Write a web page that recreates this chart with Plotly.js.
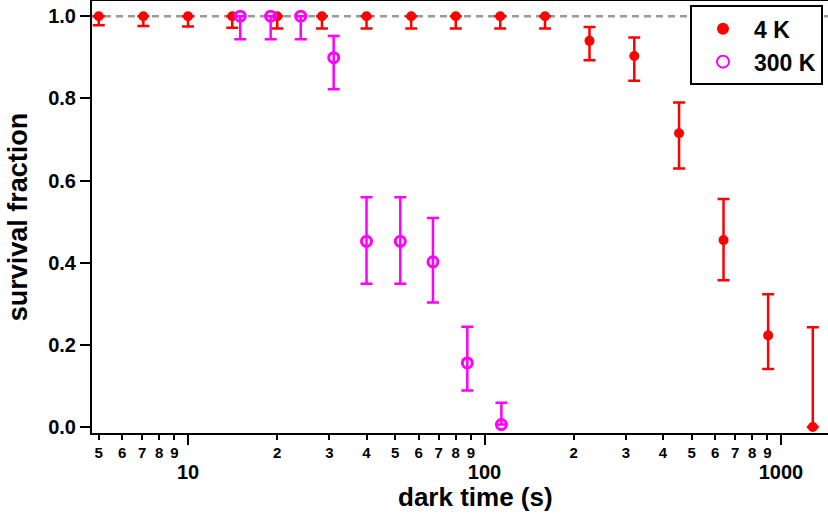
<!DOCTYPE html>
<html>
<head>
<meta charset="utf-8">
<script src="https://cdn.plot.ly/plotly-3.0.1.min.js"></script>
<style>html,body{margin:0;padding:0;background:#fff;}#chart{width:828px;height:519px;}</style>
</head>
<body>
<div id="chart"></div>
<script>
// ---- data ----
const timeCold = [5, 7.07, 10, 14.1, 20, 28.3, 40, 56.6, 80, 113, 160, 226, 320, 453, 640, 905, 1280];
const survCold = [1, 1, 1, 1, 1, 1, 1, 1, 1, 1, 1, 0.94, 0.903, 0.715, 0.455, 0.223, 0.0];
const errPlusCold = [0, 0, 0, 0, 0, 0, 0, 0, 0, 0, 0, 0.034, 0.045, 0.075, 0.10, 0.10, 0.243];
const errMinusCold = [0.022, 0.024, 0.025, 0.028, 0.03, 0.03, 0.03, 0.03, 0.03, 0.03, 0.03, 0.047, 0.06, 0.086, 0.098, 0.082, 0];

const timeWarm = [15, 19, 24, 31, 40, 52, 67, 87.5, 114];
const survWarm = [1, 1, 1, 0.899, 0.452, 0.452, 0.402, 0.156, 0.006];
const errPlusWarm = [0, 0, 0, 0.053, 0.107, 0.107, 0.107, 0.088, 0.053];
const errMinusWarm = [0.056, 0.056, 0.056, 0.077, 0.103, 0.103, 0.099, 0.067, 0];

const seriesNames = ["4 K", "300 K"];
const refLevel = 1.0;

const minorTickVals = [5, 6, 7, 8, 9, 20, 30, 40, 50, 60, 70, 80, 90, 200, 300, 400, 500, 600, 700, 800, 900];
const minorTickText = ["5", "6", "7", "8", "9", "2", "3", "4", "5", "6", "7", "8", "9", "2", "3", "4", "5", "6", "7", "8", "9"];
const majorTickVals = [10, 100, 1000];
const majorTickText = ["10", "100", "1000"];
const yTickVals = [0, 0.2, 0.4, 0.6, 0.8, 1.0];

const xTitle = "dark time (s)";
const yTitle = "survival fraction";

// ---- chart ----
const FONT = "Liberation Sans, Arial, sans-serif";
const xRange = [0.6762, 3.1585];

const traces = [
  {
    x: timeCold, y: survCold, name: seriesNames[0], type: "scatter", mode: "markers",
    marker: {symbol: "circle", size: 10, color: "#ff0000"},
    error_y: {type: "data", symmetric: false, array: errPlusCold, arrayminus: errMinusCold,
              color: "#ff0000", thickness: 2.5, width: 6},
    xaxis: "x", yaxis: "y"
  },
  {
    x: timeWarm, y: survWarm, name: seriesNames[1], type: "scatter", mode: "markers",
    marker: {symbol: "circle-open", size: 10, color: "#ff00ff", line: {width: 3, color: "#ff00ff"}},
    error_y: {type: "data", symmetric: false, array: errPlusWarm, arrayminus: errMinusWarm,
              color: "#ff00ff", thickness: 2.5, width: 6},
    xaxis: "x", yaxis: "y"
  },
  {
    x: [majorTickVals[0]], y: [refLevel], type: "scatter", mode: "markers",
    marker: {opacity: 0}, showlegend: false, hoverinfo: "skip",
    xaxis: "x2", yaxis: "y"
  }
];

const layout = {
  width: 828, height: 519,
  margin: {l: 92, r: 0, t: 1, b: 86},
  paper_bgcolor: "#ffffff", plot_bgcolor: "#ffffff",
  font: {family: FONT, color: "#000", weight: "bold"},
  showlegend: true,
  legend: {
    x: 0.8125, y: 0.99, xanchor: "left", yanchor: "top",
    bgcolor: "#ffffff", bordercolor: "#000", borderwidth: 2,
    font: {family: FONT, size: 23, color: "#000", weight: "bold"},
    itemsizing: "constant", itemwidth: 52, tracegroupgap: 0
  },
  xaxis: {
    type: "log", range: xRange, autorange: false,
    tickmode: "array", tickvals: minorTickVals, ticktext: minorTickText,
    ticks: "outside", ticklen: 5, tickwidth: 2, tickcolor: "#000",
    showline: true, linewidth: 2, linecolor: "#000", mirror: true,
    showgrid: false, zeroline: false,
    tickfont: {family: FONT, size: 15, color: "#000", weight: "bold"}
  },
  xaxis2: {
    type: "log", range: xRange, autorange: false, overlaying: "x", anchor: "y", side: "bottom",
    tickmode: "array", tickvals: majorTickVals, ticktext: majorTickText,
    ticks: "outside", ticklen: 11, tickwidth: 2, tickcolor: "#000",
    showline: false, showgrid: false, zeroline: false,
    ticklabelstandoff: 10,
    tickfont: {family: FONT, size: 20, color: "#000", weight: "bold"}
  },
  yaxis: {
    range: [-0.0146, 1.037], autorange: false,
    tickmode: "array", tickvals: yTickVals, tickformat: ".1f",
    ticks: "outside", ticklen: 10, tickwidth: 2, tickcolor: "#000",
    showline: true, linewidth: 2, linecolor: "#000", mirror: false,
    showgrid: false, zeroline: false,
    tickfont: {family: FONT, size: 20, color: "#000", weight: "bold"},
    title: {text: yTitle, font: {family: FONT, size: 27, color: "#000", weight: "bold"}, standoff: 13}
  },
  annotations: [{
    text: xTitle, xref: "paper", yref: "paper", x: 0.5204, y: -0.149,
    xanchor: "center", yanchor: "middle", showarrow: false,
    font: {family: FONT, size: 26, color: "#000", weight: "bold"}
  }],
  shapes: [{
    type: "line", xref: "paper", x0: 0, x1: 1, yref: "y", y0: refLevel, y1: refLevel,
    line: {color: "#999999", width: 2.5, dash: "7px,5px"}, layer: "below"
  }]
};

Plotly.newPlot("chart", traces, layout, {displayModeBar: false, staticPlot: true});
</script>
</body>
</html>
